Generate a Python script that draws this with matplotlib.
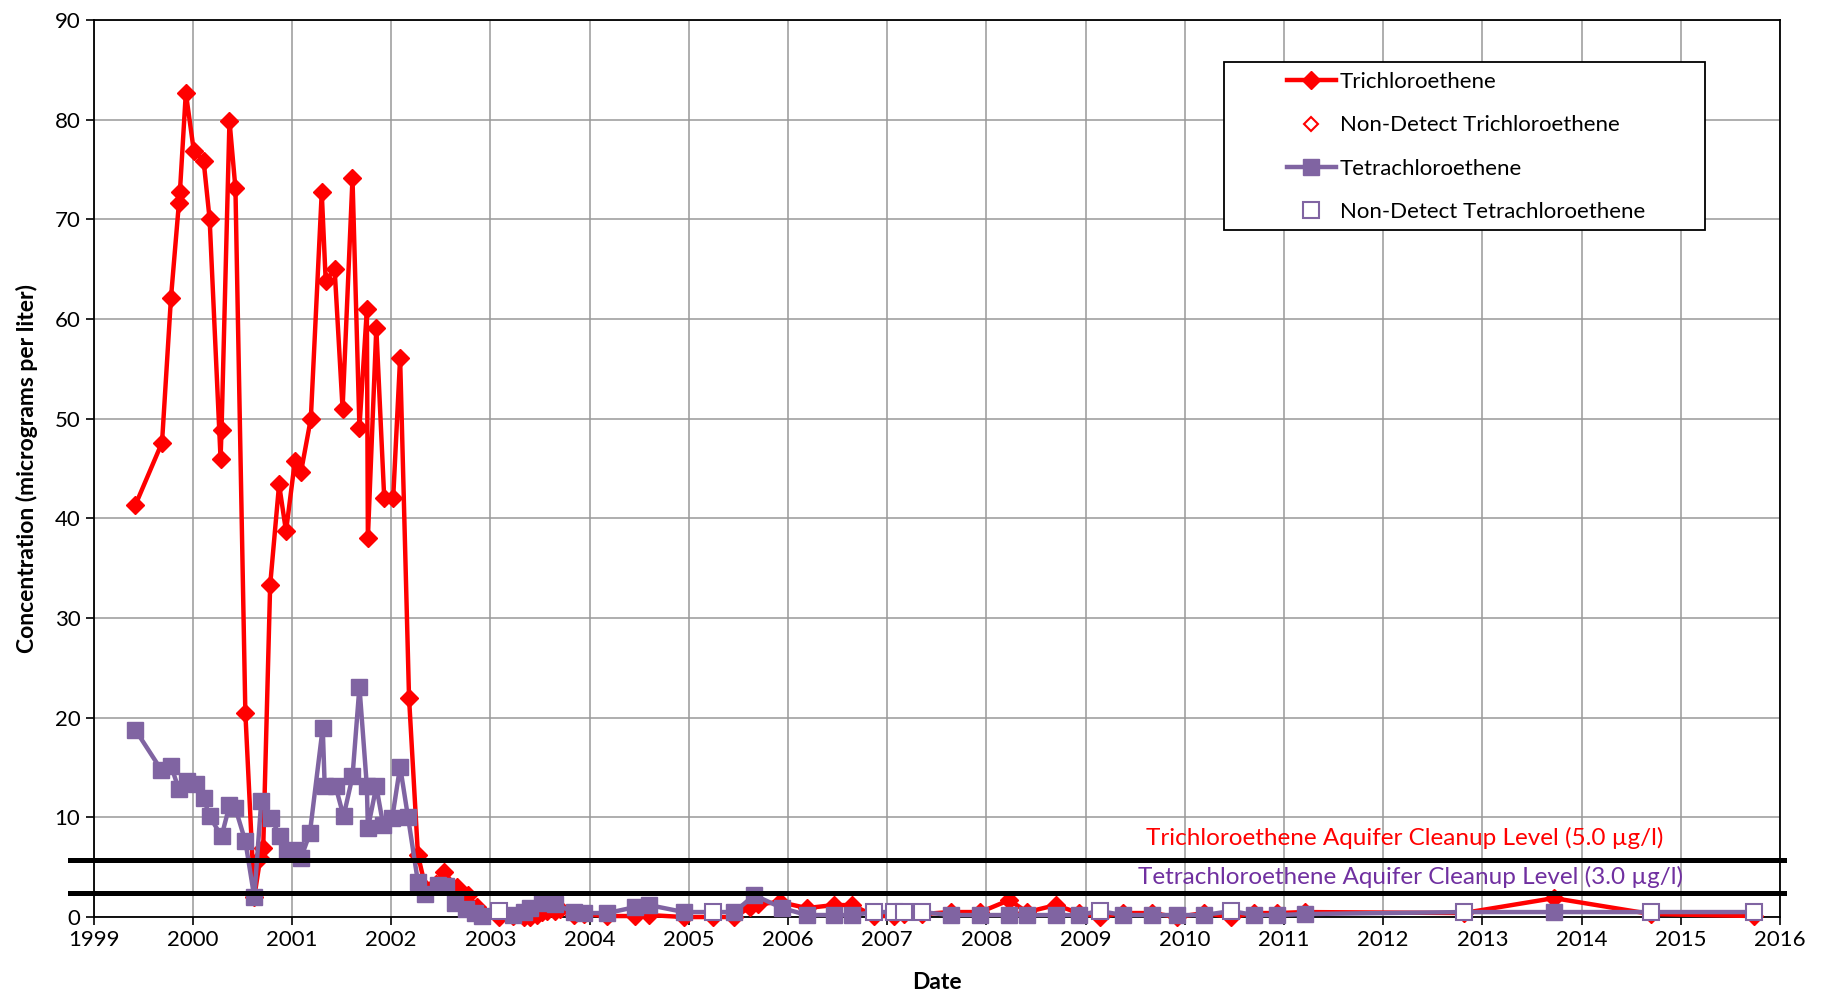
import matplotlib
matplotlib.use('Agg')
import matplotlib.pyplot as plt
from matplotlib.lines import Line2D
from matplotlib.patches import Rectangle

plt.rcParams['font.family'] = ['Lato', 'DejaVu Sans']

# Trichloroethene (TCE) samples, decimal year / ug/l
tce_date = [1999.42, 1999.69, 1999.78, 1999.86, 1999.87, 1999.93, 2000.01, 2000.11, 2000.17,
            2000.28, 2000.29, 2000.37, 2000.43, 2000.53, 2000.62, 2000.68, 2000.71, 2000.78,
            2000.87, 2000.94, 2001.03, 2001.09, 2001.19, 2001.30, 2001.34, 2001.43, 2001.51,
            2001.61, 2001.68, 2001.755, 2001.765, 2001.85, 2001.93, 2002.02, 2002.09, 2002.18,
            2002.27, 2002.35, 2002.45, 2002.53, 2002.66, 2002.77, 2002.87, 2002.93, 2003.09,
            2003.23, 2003.34, 2003.40, 2003.47, 2003.52, 2003.57, 2003.65, 2003.70, 2003.84,
            2003.94, 2004.18, 2004.46, 2004.60, 2004.95, 2005.24, 2005.46, 2005.62, 2005.70,
            2005.92, 2006.19, 2006.46, 2006.65, 2006.87, 2007.07, 2007.17, 2007.35, 2007.64,
            2007.94, 2008.23, 2008.41, 2008.70, 2008.93, 2009.14, 2009.38, 2009.67, 2009.92,
            2010.19, 2010.47, 2010.70, 2010.93, 2011.21, 2012.81, 2013.72, 2014.70, 2015.74]
tce_val = [41.3, 47.6, 62.1, 71.6, 72.7, 82.7, 76.9, 75.8, 70.0,
           46.0, 48.9, 79.9, 73.1, 20.5, 2.0, 5.9, 6.9, 33.3,
           43.4, 38.7, 45.8, 44.6, 50.0, 72.7, 63.8, 65.0, 51.0,
           74.1, 49.1, 61.0, 38.0, 59.1, 42.0, 42.0, 56.1, 22.0,
           6.2, 2.8, 3.3, 4.5, 3.0, 2.2, 1.0, 0.3, 0.0,
           0.1, 0.0, 0.0, 0.2, 0.5, 0.6, 0.6, 0.8, 0.2,
           0.3, 0.1, 0.1, 0.2, 0.0, 0.0, 0.0, 1.0, 1.3,
           1.5, 0.9, 1.2, 1.2, 0.1, 0.1, 0.3, 0.3, 0.5,
           0.5, 1.7, 0.5, 1.2, 0.4, 0.0, 0.4, 0.4, 0.0,
           0.4, 0.0, 0.4, 0.4, 0.5, 0.4, 1.9, 0.3, 0.1]
tce_nd_date = [2003.09, 2005.24, 2006.87, 2007.07, 2009.14, 2010.47, 2012.81, 2015.74]
tce_nd_val = [0.3, 0.3, 0.3, 0.3, 0.3, 0.3, 0.3, 0.3]

# Tetrachloroethene (PCE) samples; nd = 1 for non-detect
pce_date = [1999.42, 1999.68, 1999.78, 1999.86, 1999.94, 2000.03, 2000.11, 2000.17, 2000.29,
            2000.37, 2000.43, 2000.53, 2000.62, 2000.69, 2000.79, 2000.88, 2000.95, 2001.03,
            2001.09, 2001.18, 2001.31, 2001.33, 2001.44, 2001.52, 2001.61, 2001.68, 2001.755,
            2001.765, 2001.85, 2001.92, 2002.01, 2002.09, 2002.17, 2002.27, 2002.34, 2002.47,
            2002.55, 2002.64, 2002.75, 2002.84, 2002.92, 2003.09, 2003.23, 2003.34, 2003.40,
            2003.52, 2003.65, 2003.84, 2003.94, 2004.18, 2004.46, 2004.60, 2004.95, 2005.24,
            2005.46, 2005.66, 2005.94, 2006.19, 2006.46, 2006.65, 2006.87, 2007.07, 2007.17,
            2007.35, 2007.64, 2007.94, 2008.23, 2008.41, 2008.70, 2008.93, 2009.14, 2009.38,
            2009.67, 2009.92, 2010.19, 2010.47, 2010.70, 2010.93, 2011.21, 2012.81, 2013.72,
            2014.70, 2015.74]
pce_val = [18.8, 14.8, 15.2, 12.8, 13.6, 13.3, 11.9, 10.1, 8.1,
           11.2, 10.9, 7.6, 2.0, 11.6, 9.9, 8.1, 6.6, 6.7,
           5.9, 8.4, 19.0, 13.1, 13.1, 10.1, 14.1, 23.1, 13.1,
           8.9, 13.1, 9.2, 9.9, 15.1, 10.0, 3.5, 2.3, 3.2,
           3.1, 1.4, 0.8, 0.4, 0.1, 0.6, 0.2, 0.5, 0.9,
           1.4, 1.3, 0.5, 0.4, 0.4, 1.0, 1.2, 0.5, 0.5,
           0.5, 2.2, 0.9, 0.2, 0.2, 0.2, 0.5, 0.5, 0.5,
           0.5, 0.2, 0.2, 0.2, 0.2, 0.2, 0.2, 0.6, 0.2,
           0.2, 0.2, 0.2, 0.6, 0.2, 0.2, 0.3, 0.5, 0.5,
           0.5, 0.5]
pce_nd = [0] * 41 + [1, 0, 0, 0, 0, 0, 0, 0, 0, 0, 0, 0, 1,
                     0, 0, 0, 0, 0, 0, 1, 1, 1, 1, 0, 0, 0, 0, 0, 0, 1, 0,
                     0, 0, 0, 1, 0, 0, 0, 1, 0, 1, 1]

# cleanup level lines (as drawn in the picture)
tce_level_y = 5.7
pce_level_y = 2.4

red = '#FF0000'
purple = '#8064A2'
purple_txt = '#7030A0'

fig = plt.figure(figsize=(18.24, 9.97), dpi=100)
ax = fig.add_axes([0.0513, 0.0802, 0.9246, 0.8998])

ax.set_xlim(1999, 2016)
ax.set_ylim(0, 90)
ax.set_xticks(range(1999, 2017))
ax.set_yticks(range(0, 91, 10))
ax.grid(True, color='#999999', linewidth=1.1)
ax.set_axisbelow(True)
for s in ax.spines.values():
    s.set_color('black')
    s.set_linewidth(1.3)
ax.tick_params(direction='out', length=6, width=1.2, labelsize=16)

ax.plot(tce_date, tce_val, color=red, lw=3.2, marker='D', ms=9.5, mec=red, zorder=3,
        clip_on=False)
ax.plot(tce_nd_date, tce_nd_val, ls='none', marker='D', ms=7, mfc='white', mec=red,
        mew=1.5, zorder=3, clip_on=False)

pd_det = [d for d, n in zip(pce_date, pce_nd) if not n]
pv_det = [v for v, n in zip(pce_val, pce_nd) if not n]
pd_nd = [d for d, n in zip(pce_date, pce_nd) if n]
pv_nd = [v for v, n in zip(pce_val, pce_nd) if n]
ax.plot(pce_date, pce_val, color=purple, lw=3.2, zorder=4, clip_on=False)
ax.plot(pd_det, pv_det, ls='none', marker='s', ms=11, color=purple, zorder=4, clip_on=False)
ax.plot(pd_nd, pv_nd, ls='none', marker='s', ms=11, mfc='white', mec=purple, mew=1.5,
        zorder=5, clip_on=False)

for yv in (tce_level_y, pce_level_y):
    ax.add_line(Line2D([-0.014, 1.0024], [yv, yv], transform=ax.get_yaxis_transform(),
                       color='black', lw=3.6, clip_on=False, zorder=6))

ax.text(0.7777, 7.9, 'Trichloroethene Aquifer Cleanup Level (5.0 µg/l)',
        transform=ax.get_yaxis_transform(), color=red, fontsize=17.5,
        ha='center', va='center', zorder=7)
ax.text(0.781, 4.0, 'Tetrachloroethene Aquifer Cleanup Level (3.0 µg/l)',
        transform=ax.get_yaxis_transform(), color=purple_txt, fontsize=17.5,
        ha='center', va='center', zorder=7)

ax.set_xlabel('Date', fontsize=16.5, fontweight='bold', labelpad=16)
ax.set_ylabel('Concentration (micrograms per liter)', fontsize=16.5, fontweight='bold',
              labelpad=12)

# legend
ax.add_patch(Rectangle((0.670, 0.766), 0.2855, 0.187, transform=ax.transAxes,
                       facecolor='white', edgecolor='black', lw=1.3, zorder=8))
handles = [
    Line2D([], [], color=red, lw=3.2, marker='D', ms=9.5),
    Line2D([], [], ls='none', marker='D', ms=7, mfc='white', mec=red, mew=1.5),
    Line2D([], [], color=purple, lw=3.2, marker='s', ms=11),
    Line2D([], [], ls='none', marker='s', ms=11, mfc='white', mec=purple, mew=1.5),
]
labels = ['Trichloroethene', 'Non-Detect Trichloroethene', 'Tetrachloroethene',
          'Non-Detect Tetrachloroethene']
leg = ax.legend(handles, labels, loc='upper left', bbox_to_anchor=(0.7075, 0.942),
                frameon=False, fontsize=16, handlelength=2.2, handletextpad=0.2,
                labelspacing=1.05, borderpad=0, borderaxespad=0)
leg.set_zorder(9)

fig.savefig('out.png', dpi=100)
